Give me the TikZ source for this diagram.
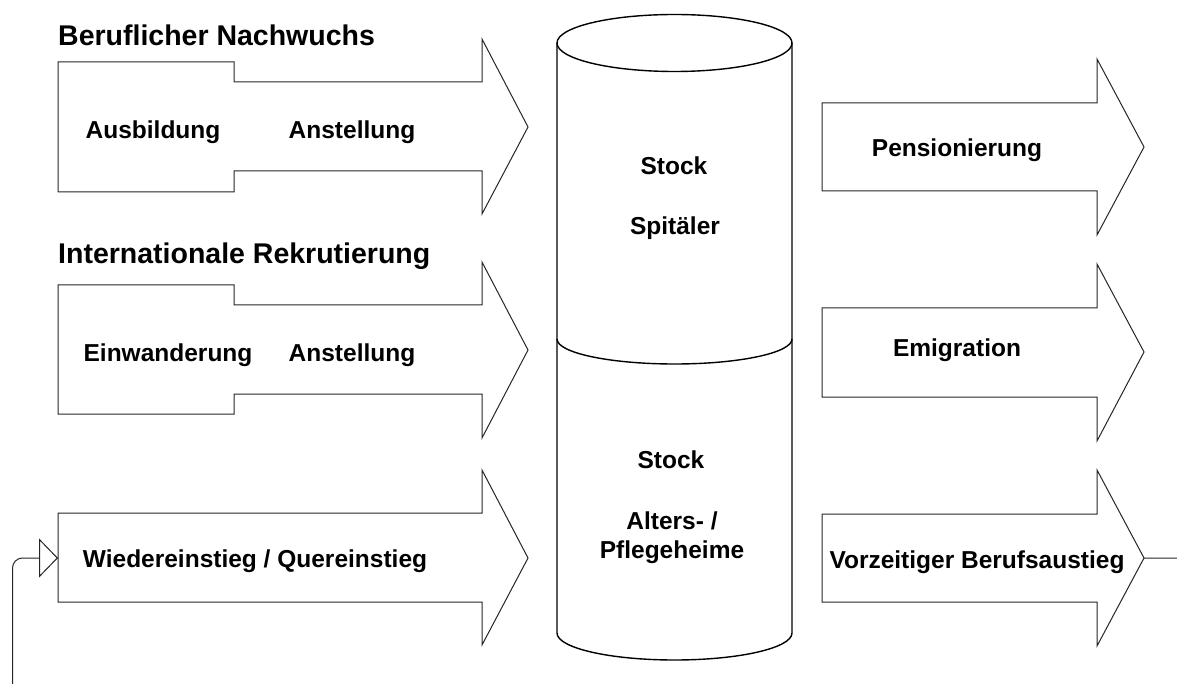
\documentclass[tikz,border=0pt]{standalone}
\usepackage{fontspec}
\setmainfont{Liberation Sans}
\usetikzlibrary{arrows.meta}
\tikzset{
  flow/.style={draw=black!85, line width=1pt, fill=white, line join=miter},
  cyl/.style={draw=black, line width=1.4pt},
  lbl/.style={font=\fontsize{24.5}{28}\selectfont\bfseries, inner sep=0pt, anchor=base},
  ttl/.style={font=\fontsize{28.5}{32}\selectfont\bfseries, inner sep=0pt, anchor=base west},
  conn/.style={draw=black!85, line width=1pt, rounded corners=10pt,
    -{Triangle[open, length=19pt, width=39pt, line width=1pt]}}
}
\begin{document}
\begin{tikzpicture}[x=1pt,y=-1pt]
\useasboundingbox (0,0) rectangle (1177,684);
\clip (0,0) rectangle (1177,684);
\fill[white] (0,0) rectangle (1177,684);

% left arrows
\draw[flow] (58,62) -- (234,62) -- (234,82) -- (482,82) -- (482,39) -- (528,127)
  -- (482,214) -- (482,171) -- (234,171) -- (234,192) -- (58,192) -- cycle;
\draw[flow] (58,285) -- (234,285) -- (234,305) -- (482,305) -- (482,262) -- (528,350)
  -- (482,438) -- (482,394) -- (234,394) -- (234,414) -- (58,414) -- cycle;
\draw[flow] (58,513) -- (482,513) -- (482,470) -- (528,558) -- (482,645)
  -- (482,602) -- (58,602) -- cycle;

% right arrows
\draw[flow] (822,103) -- (1097,103) -- (1097,59) -- (1144,147) -- (1097,235)
  -- (1097,191) -- (822,191) -- cycle;
\draw[flow] (822,308) -- (1097,308) -- (1097,264) -- (1144,352) -- (1097,441)
  -- (1097,397) -- (822,397) -- cycle;
\draw[flow] (822,514) -- (1097,514) -- (1097,470) -- (1144,558) -- (1097,646)
  -- (1097,602) -- (822,602) -- cycle;

% cylinder
\draw[cyl, fill=white] (557,43) -- (557,633)
  arc[start angle=180, end angle=0, x radius=117.5, y radius=27] -- (792,43);
\draw[cyl, fill=white] (674.5,43) ellipse [x radius=117.5, y radius=28.5];
\draw[cyl] (557,339) arc[start angle=180, end angle=0, x radius=117.5, y radius=25];

% titles
\node[ttl] (tBN) at (58,46) {Beruflicher Nachwuchs};
\node[ttl] (tIR) at (58,264) {Internationale Rekrutierung};

% labels
\node[lbl] (aus) at (153,139) {Ausbildung};
\node[lbl] (ans1) at (352,139) {Anstellung};
\node[lbl] (ein) at (168,361) {Einwanderung};
\node[lbl] (ans2) at (352,361) {Anstellung};
\node[lbl] (wie) at (255,567) {Wiedereinstieg / Quereinstieg};
\node[lbl] (pen) at (957,157) {Pensionierung};
\node[lbl] (emi) at (957,356) {Emigration};
\node[lbl] (vor) at (977,568) {Vorzeitiger Berufsaustieg};
\node[lbl] (st1) at (674,175) {Stock};
\node[lbl] (spi) at (675,235) {Spitäler};
\node[lbl] (st2) at (671,468) {Stock};
\node[lbl] (alt) at (672,529) {Alters- /};
\node[lbl] (pfl) at (672,558) {Pflegeheime};

% feedback connector
\coordinate (r3tip) at (1144,558);
\coordinate (l3in) at (58,558);
\draw[conn] (r3tip) -- (1210,558) -- (1210,720) -- (12.5,720) -- (12.5,558) -- (l3in);
\end{tikzpicture}
\end{document}
